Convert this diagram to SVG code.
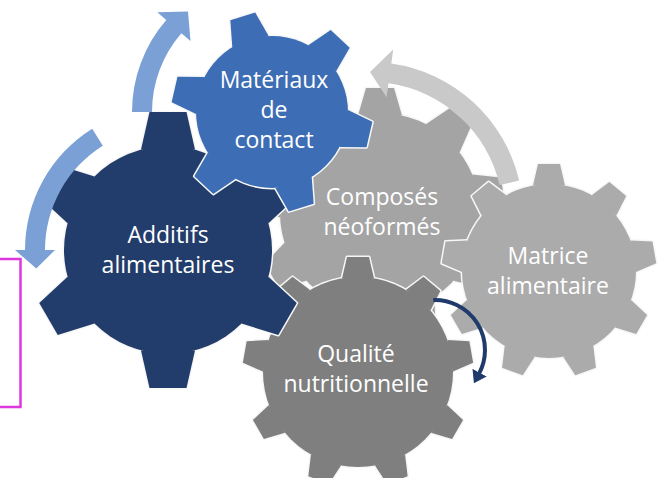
<svg xmlns="http://www.w3.org/2000/svg" xmlns:xlink="http://www.w3.org/1999/xlink" width="672" height="478" viewBox="0 0 672 478">
  <style>
    .rim { fill: #F7F7F7; stroke: #F7F7F7; stroke-width: 3; stroke-linejoin: round; }
    .lbl { font-family: "Open Sans", "Liberation Sans", sans-serif; font-size: 23px; fill: #FFFFFF; text-anchor: middle; }
    .band-blue { fill: #7AA0D6; }
    .band-grey { fill: #C9C9C9; }
    .spin { fill: none; stroke: #1F3A6B; stroke-width: 4; }
    .frame { fill: none; stroke: #DD38DD; stroke-width: 2.5; }
  </style>
  <defs>
    <!-- single teeth, pointing up, in gear-local coordinates -->
    <path id="toothA" d="M-27,-100.4L-18.5,-138L18.5,-138L27,-100.4Z"/>
    <path id="toothB" d="M-19,-73.6L-13,-100L13,-100L19,-73.6Z"/>
    <path id="toothC" d="M-22,-97.5L-14,-125L14,-125L22,-97.5Z"/>
    <path id="toothD" d="M-16,-85.5L-11,-107L11,-107L16,-85.5Z"/>
    <path id="toothE" d="M-16,-93.6L-11,-115L11,-115L16,-93.6Z"/>

    <!-- six-tooth gear, large -->
    <g id="gearA">
      <circle r="104"/>
      <use href="#toothA"/>
      <use href="#toothA" transform="rotate(60)"/>
      <use href="#toothA" transform="rotate(120)"/>
      <use href="#toothA" transform="rotate(180)"/>
      <use href="#toothA" transform="rotate(240)"/>
      <use href="#toothA" transform="rotate(300)"/>
    </g>
    <!-- six-tooth gear, small, turned -->
    <g id="gearB">
      <circle r="76"/>
      <use href="#toothB" transform="rotate(43)"/>
      <use href="#toothB" transform="rotate(103)"/>
      <use href="#toothB" transform="rotate(163)"/>
      <use href="#toothB" transform="rotate(223)"/>
      <use href="#toothB" transform="rotate(283)"/>
      <use href="#toothB" transform="rotate(343)"/>
    </g>
    <!-- nine-tooth gears -->
    <g id="gearC">
      <circle r="100"/>
      <use href="#toothC"/>
      <use href="#toothC" transform="rotate(40)"/>
      <use href="#toothC" transform="rotate(80)"/>
      <use href="#toothC" transform="rotate(120)"/>
      <use href="#toothC" transform="rotate(160)"/>
      <use href="#toothC" transform="rotate(200)"/>
      <use href="#toothC" transform="rotate(240)"/>
      <use href="#toothC" transform="rotate(280)"/>
      <use href="#toothC" transform="rotate(320)"/>
    </g>
    <g id="gearD">
      <circle r="87"/>
      <use href="#toothD"/>
      <use href="#toothD" transform="rotate(40)"/>
      <use href="#toothD" transform="rotate(80)"/>
      <use href="#toothD" transform="rotate(120)"/>
      <use href="#toothD" transform="rotate(160)"/>
      <use href="#toothD" transform="rotate(200)"/>
      <use href="#toothD" transform="rotate(240)"/>
      <use href="#toothD" transform="rotate(280)"/>
      <use href="#toothD" transform="rotate(320)"/>
    </g>
    <g id="gearE">
      <circle r="95"/>
      <use href="#toothE"/>
      <use href="#toothE" transform="rotate(40)"/>
      <use href="#toothE" transform="rotate(80)"/>
      <use href="#toothE" transform="rotate(120)"/>
      <use href="#toothE" transform="rotate(160)"/>
      <use href="#toothE" transform="rotate(200)"/>
      <use href="#toothE" transform="rotate(240)"/>
      <use href="#toothE" transform="rotate(280)"/>
      <use href="#toothE" transform="rotate(320)"/>
    </g>

    <marker id="headNavy" viewBox="0 0 12 16" refX="1" refY="8" markerWidth="12" markerHeight="16" markerUnits="userSpaceOnUse" orient="auto">
      <path d="M0,0L12,8L0,16Z" fill="#1F3A6B"/>
    </marker>
  </defs>

  <rect width="672" height="478" fill="#FFFFFF"/>

  <!-- gears, back to front -->
  <g id="node-composes">
    <use href="#gearC" x="380" y="213" class="rim"/>
    <use href="#gearC" x="380" y="213" fill="#A4A4A4"/>
    <text class="lbl" x="382" y="205">Composés</text>
    <text class="lbl" x="382" y="235">néoformés</text>
  </g>

  <g id="node-matrice">
    <use href="#gearD" x="549" y="271" class="rim"/>
    <use href="#gearD" x="549" y="271" fill="#ABABAB"/>
    <text class="lbl" x="548" y="264">Matrice</text>
    <text class="lbl" x="548" y="294">alimentaire</text>
  </g>

  <g id="node-qualite">
    <use href="#gearE" x="358" y="372" class="rim"/>
    <use href="#gearE" x="358" y="372" fill="#7F7F7F"/>
    <text class="lbl" x="356" y="362">Qualité</text>
    <text class="lbl" x="356" y="392">nutritionnelle</text>
  </g>

  <g id="node-additifs">
    <use href="#gearA" x="168" y="250" class="rim"/>
    <use href="#gearA" x="168" y="250" fill="#223D6B"/>
    <text class="lbl" x="168" y="243">Additifs</text>
    <text class="lbl" x="168" y="273">alimentaires</text>
  </g>

  <g id="node-materiaux">
    <use href="#gearB" x="272" y="112" class="rim"/>
    <use href="#gearB" x="272" y="112" fill="#3D6DB5"/>
    <text class="lbl" x="274" y="88">Matériaux</text>
    <text class="lbl" x="274" y="118">de</text>
    <text class="lbl" x="274" y="148">contact</text>
  </g>

  <!-- rotation arrows -->
  <g id="connectors">
    <path class="band-blue" d="M92.2,128.7A143,143 0 0,0 25,250L15,250L36.3,268.5L55,250L45,250A123,123 0 0,1 102.8,145.7Z"/>
    <path class="band-blue" d="M132,112A140,140 0 0,1 166.3,20.1L157.3,12.3L188,11.5L190.5,41.1L181.4,33.3A120,120 0 0,0 152,112Z"/>
    <path class="band-grey" d="M519.1,180.6A153,153 0 0,0 391.3,63.5L393.2,49.6L370,72L386.6,97.2L388.5,83.3A133,133 0 0,1 499.6,185.1Z"/>
    <path class="spin" d="M433.3,300A50,50 0 0,1 479.1,373.5" marker-end="url(#headNavy)"/>
  </g>

  <rect class="frame" x="-5" y="259" width="25.5" height="148"/>
</svg>
